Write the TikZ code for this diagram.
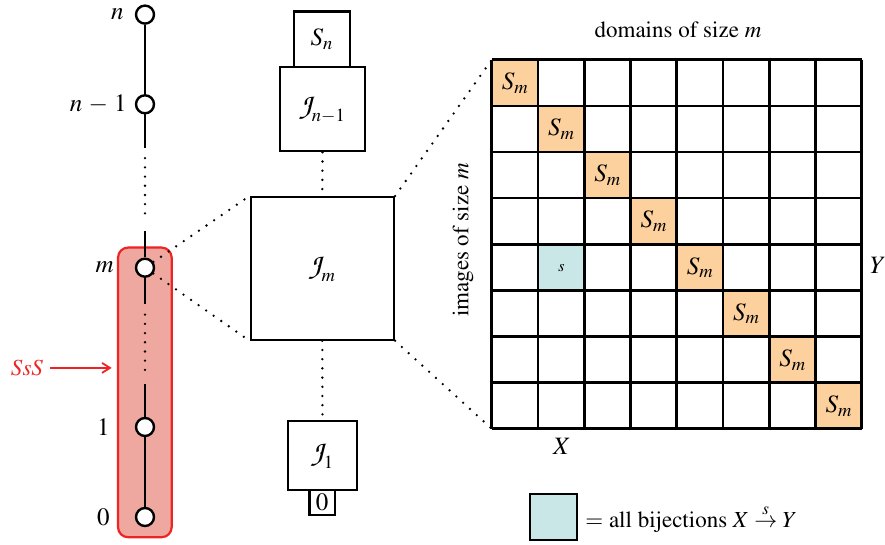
\documentclass[tikz,border=0pt]{standalone}
\usepackage[T1]{fontenc}
\usepackage{mathptmx}
\usetikzlibrary{arrows.meta}
\definecolor{peach}{HTML}{FDD19E}
\definecolor{teal}{HTML}{C8E7E6}
\definecolor{redfill}{HTML}{EFA8A0}
\definecolor{redline}{HTML}{EE2424}
\newcommand\zcJ{\mbox{\fontencoding{T1}\fontfamily{pzc}\fontseries{mb}\fontshape{it}\fontsize{16}{16}\selectfont J}}
\begin{document}
\begin{tikzpicture}[x=0.5pt,y=-0.5pt,
  font=\fontsize{12.5}{14}\selectfont,
  txt/.style={font=\fontsize{11.5}{14}\selectfont},
  vert/.style={circle,draw,fill=white,line width=1.2pt,minimum size=9pt,inner sep=0pt},
  dotline/.style={line width=1.3pt,dash pattern=on 0pt off 4.6pt,line cap=round},
  solidline/.style={line width=1.1pt},
  jbox/.style={draw,line width=1.1pt,fill=white,inner sep=0pt},
  cell/.style={minimum width=23.1pt,minimum height=23.05pt,inner sep=0pt,anchor=north west}]
\useasboundingbox (0,0) rectangle (885,545);
% red highlight
\node[draw=redline,fill=redfill,line width=1.1pt,rounded corners=5pt,minimum width=26.8pt,minimum height=144.8pt,inner sep=0pt] (ss) at (144.85,392.4) {};
% chain
\node[vert] (vn) at (145,14.6) {};
\node[vert] (vn1) at (145,104.3) {};
\node[vert] (vm) at (145,267.7) {};
\node[vert] (v1) at (145,427) {};
\node[vert] (v0) at (145,517) {};
\coordinate (a1) at (145,147.8);
\coordinate (a2) at (145,158.2);
\coordinate (a3) at (145,217.3);
\coordinate (a4) at (145,231.2);
\coordinate (b1) at (145,304.2);
\coordinate (b2) at (145,314.7);
\coordinate (b3) at (145,373.8);
\coordinate (b4) at (145,384.2);
\draw[solidline] (vn) -- (vn1);
\draw[solidline] (vn1) -- (a1);
\draw[dotline] (a2) -- (a3);
\draw[solidline] (a4) -- (vm);
\draw[solidline] (vm) -- (b1);
\draw[dotline] (b2) -- (b3);
\draw[solidline] (b4) -- (v1);
\draw[solidline] (v1) -- (v0);
% labels
\node[anchor=east] (ln) at (vn.west) [xshift=-2pt] {$n$};
\node[anchor=east] (ln1) at (vn1.west) [xshift=-0.5pt] {$n\,-\,1$};
\node[anchor=east] (lm) at (vm.west) [xshift=-7pt] {$m$};
\node[anchor=east] (l1) at (v1.west) [xshift=-9pt] {$1$};
\node[anchor=east] (l0) at (v0.west) [xshift=-9pt] {$0$};
\node[text=redline,font=\fontsize{11.5}{14}\selectfont] (sss) at (27,367.9) {$SsS$};
\coordinate (arrend) at (111.7,367.9);
\draw[redline,line width=0.9pt,-{Straight Barb[length=4pt,width=5pt]}] (sss.east) -- (arrend);
% middle column
\node[jbox,minimum width=28pt,minimum height=27.8pt] (sn) at (322,39.3) {$S_n$};
\node[jbox,minimum width=42.5pt,minimum height=42pt] (jn1) at (322.5,109.2) {$\zcJ_{n-1}$};
\node[jbox,minimum width=71.7pt,minimum height=71.3pt] (jm) at (322.3,268.4) {$\zcJ_{m}$};
\node[jbox,minimum width=34.8pt,minimum height=34.8pt] (j1) at (322.5,455.5) {$\zcJ_{1}$};
\node[jbox,minimum width=12.8pt,minimum height=12.5pt] (z) at (322.2,502.8) {$0$};
\draw[dotline] (jn1.south) -- (jm.north);
\draw[dotline] (jm.south) -- (j1.north);
\draw[dotline] (vm) -- (jm.north west);
\draw[dotline] (vm) -- (jm.south west);
% grid
\coordinate (gnw) at (491.7,59.8);
\coordinate (gsw) at (491.7,428.7);
\draw[dotline] (jm.north east) -- (gnw);
\draw[dotline] (jm.south east) -- (gsw);
\foreach \i in {0,...,7} {
  \node[cell,fill=peach] (d\i) at (491.7+46.25*\i,59.8+46.1*\i) {$S_m$};
}
\node[cell,fill=teal] (sc) at (491.7+46.25,59.8+46.1*4) {\fontsize{8}{9}\selectfont$s$};
\foreach \i in {0,...,8} {
  \draw[line width=1.35pt] (491.7+46.25*\i,59.8) -- (491.7+46.25*\i,428.7);
  \draw[line width=1.35pt] (491.7,59.8+46.1*\i) -- (861.7,59.8+46.1*\i);
}
\node[txt] (dom) at (678,29.6) {domains of size $m$};
\node[txt,rotate=90] (img) at (463,240) {images of size $m$};
\node (ly) at (878,265) {$Y$};
\node (lx) at (562,446.8) {$X$};
% legend
\node[draw,fill=teal,line width=1.1pt,minimum width=23.3pt,minimum height=23.1pt,inner sep=0pt] (leg) at (553.3,516.9) {};
\node[txt,anchor=west,inner sep=0pt] (legt) at (585,519) {$=$ all bijections $X\stackrel{s}{\to}Y$};
\end{tikzpicture}
\end{document}
